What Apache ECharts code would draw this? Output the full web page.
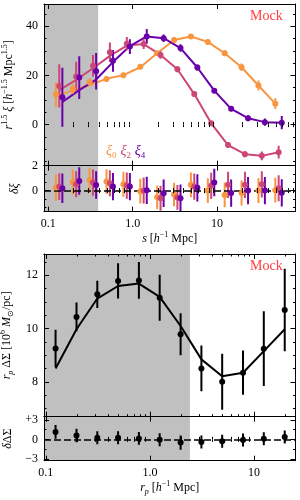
<!DOCTYPE html>
<html><head><meta charset="utf-8">
<script src="https://cdn.jsdelivr.net/npm/echarts@6/dist/echarts.min.js"></script>
<style>html,body{margin:0;padding:0;background:#fff}#c{width:300px;height:500px}</style>
</head><body><div id="c"></div>
<script>
const FONT = 'Liberation Serif';
// ---- top panel: r^1.5 xi multipoles ----
const S_BINS = [0.135, 0.214, 0.339, 0.537, 0.852, 1.35, 2.14, 3.39, 5.37, 8.52, 13.5, 21.4, 33.9, 53.7];
const XI0 = [12.2, 14.5, 17.2, 18.5, 20.1, 23.5, 29.0, 34.4, 35.8, 33.6, 29.0, 23.3, 15.9, 8.5];
const XI0_ERR = [5.0, 2.0, 1.5, 1.2, 1.0, 1.0, 1.0, 1.0, 1.0, 1.0, 1.2, 1.5, 2.0, 2.2];
const XI0_MODEL = [11.7, 13.8, 16.1, 18.6, 20.1, 23.3, 29.0, 34.4, 35.8, 33.6, 29.0, 23.3, 15.9, 8.5];
const XI2 = [15.7, 19.5, 23.9, 29.4, 32.9, 32.7, 28.3, 22.5, 12.4, 0.5, -8.3, -12.0, -12.7, -11.2];
const XI2_ERR = [8.8, 6.0, 4.4, 4.0, 2.7, 2.0, 1.5, 1.2, 1.0, 1.0, 1.2, 1.3, 1.8, 2.6];
const XI2_MODEL = [14.0, 18.2, 22.9, 27.9, 32.1, 32.7, 28.3, 22.5, 12.4, 0.5, -8.3, -12.0, -12.7, -11.2];
const XI4 = [11.1, 19.1, 21.7, 25.9, 31.7, 35.8, 35.1, 31.1, 23.2, 13.8, 6.4, 2.6, 1.0, 0.8];
const XI4_ERR = [12.0, 8.7, 7.4, 4.4, 3.0, 3.0, 1.5, 1.5, 1.2, 1.0, 1.0, 1.2, 1.5, 2.7];
const XI4_MODEL = [9.2, 14.0, 18.3, 25.4, 31.9, 35.8, 35.1, 31.1, 23.2, 13.8, 6.4, 2.6, 1.0, 0.8];
// ---- residual panel: delta xi ----
const DXI0 = [0.24, 0.67, 0.85, 0.72, 0.51, -0.05, -0.54, -0.32, 0.46, 0.0, -0.35, -0.2, 0.0, 0.03];
const DXI0_ERR = [1.05, 1.0, 1.0, 1.0, 1.0, 1.0, 0.95, 0.95, 1.0, 1.0, 1.0, 1.0, 1.0, 1.0];
const DXI2 = [0.32, 0.51, 0.64, 0.59, 0.40, 0.0, -0.62, -0.55, 0.32, 0.38, 0.46, 0.46, 0.50, 0.19];
const DXI2_ERR = [1.08, 1.05, 1.05, 1.05, 1.05, 1.05, 1.0, 1.0, 1.05, 1.05, 1.05, 1.05, 1.05, 1.05];
const DXI4 = [0.19, 0.77, 0.45, 0.32, 0.32, 0.02, -0.22, -0.62, 0.22, 0.65, -0.2, 0.0, 0.0, -0.18];
const DXI4_ERR = [1.19, 1.1, 1.1, 1.1, 1.1, 1.1, 1.1, 1.1, 1.1, 1.1, 1.1, 1.1, 1.1, 1.1];
// ---- lensing panel ----
const RP_BINS = [0.124, 0.197, 0.312, 0.494, 0.783, 1.24, 1.97, 3.12, 4.94, 7.83, 12.4, 19.7];
const DS = [9.26, 10.44, 11.29, 11.79, 11.81, 11.16, 9.79, 8.51, 8.01, 8.35, 9.25, 10.70];
const DS_ERR = [0.70, 0.54, 0.51, 0.66, 0.69, 0.86, 0.79, 0.86, 1.05, 0.83, 1.40, 1.55];
const DS_MODEL = [8.51, 9.98, 11.13, 11.60, 11.69, 11.19, 10.10, 8.85, 8.22, 8.35, 9.16, 9.98];
const DDS = [1.15, 0.6, 0.25, 0.25, 0.15, -0.05, -0.5, -0.4, -0.3, -0.1, 0.1, 0.35];
const DDS_ERR = [1.07, 1.05, 1.0, 1.0, 1.0, 1.0, 1.1, 1.0, 1.0, 1.0, 1.0, 1.0];
// ---- ticks & ranges ----
const X_TICKS = [0.1, 1, 10];
const X_TICK_LABELS = ['0.1', '1.0', '10'];
const X_MINOR_TOP = [0.2,0.3,0.4,0.5,0.6,0.7,0.8,0.9,2,3,4,5,6,7,8,9,20,30,40,50,60,70,80];
const X_MINOR_BOT = [0.2,0.3,0.4,0.5,0.6,0.7,0.8,0.9,2,3,4,5,6,7,8,9,20];
const Y1_TICKS = [0, 20, 40];
const Y1_MINOR = [-15,-10,-5,5,10,15,25,30,35,45];
const Y2_TICKS = [0, 2];
const Y2_MINOR = [-1.333,-0.667,0.667,1.333];
const Y3_TICKS = [8, 10, 12];
const Y3_MINOR = [7,7.5,8.5,9,9.5,10.5,11,11.5,12.5];
const Y4_TICKS = [-3, 0, 3];
const Y4_TICK_LABELS = ['−3', '0', '+3'];
const Y4_MINOR = [-1.5, 1.5];
const S_CUT = 0.39, RP_CUT = 2.42;
const S_RANGE = [0.089, 85], RP_RANGE = [0.096, 25];

const C0 = '#f89540', C2 = '#cc4778', C4 = '#6a00a8';
const DODGE = [0.912, 1, 1.088];

const RICH = {
  i: {fontFamily: FONT, fontStyle: 'italic', fontSize: 12, lineHeight: 16, color: '#000'},
  n: {fontFamily: FONT, fontSize: 12, lineHeight: 16, color: '#000'},
  sup: {fontFamily: FONT, fontSize: 8, lineHeight: 9, verticalAlign: 'top', color: '#000'},
  subi: {fontFamily: FONT, fontStyle: 'italic', fontSize: 8, lineHeight: 9, verticalAlign: 'bottom', color: '#000'},
  subn: {fontFamily: FONT, fontSize: 8, lineHeight: 9, verticalAlign: 'bottom', color: '#000'}
};

function lookupFmt(vals, labels) {
  return v => { for (let k = 0; k < vals.length; k++) if (Math.abs(v - vals[k]) < 1e-6 * Math.max(1, Math.abs(vals[k]))) return labels[k]; return ''; };
}

const grids = [
  {left: 44, width: 251.5, top: 4, height: 161.7},
  {left: 44, width: 251.5, top: 165.7, height: 46},
  {left: 44, width: 251.5, top: 254, height: 162.7},
  {left: 44, width: 251.5, top: 416.7, height: 44}
].map(g => Object.assign(g, {outerBoundsMode: 'none', containLabel: false}));

const lineStyleAxis = {color: '#000', width: 1};
function xAxes(gi, range, minors, showLabels, name) {
  const base = {gridIndex: gi, type: 'log', logBase: 10, min: range[0], max: range[1], splitLine: {show: false}, z: 10};
  return [
    Object.assign({}, base, {position: 'bottom',
      axisLine: {show: true, onZero: false, lineStyle: lineStyleAxis},
      axisTick: {show: true, inside: true, length: 5, customValues: X_TICKS, lineStyle: lineStyleAxis},
      axisLabel: {show: showLabels, customValues: X_TICKS, formatter: lookupFmt(X_TICKS, X_TICK_LABELS), margin: 6, fontFamily: FONT, fontSize: 12, color: '#000'},
      name: name || '', nameLocation: 'middle', nameGap: 18, nameTextStyle: {rich: RICH}}),
    Object.assign({}, base, {position: 'bottom', axisLine: {show: false},
      axisTick: {show: true, inside: true, length: 2.5, customValues: minors, lineStyle: lineStyleAxis}, axisLabel: {show: false}}),
    Object.assign({}, base, {position: 'top',
      axisLine: {show: true, onZero: false, lineStyle: lineStyleAxis},
      axisTick: {show: true, inside: true, length: 5, customValues: X_TICKS, lineStyle: lineStyleAxis}, axisLabel: {show: false}}),
    Object.assign({}, base, {position: 'top', axisLine: {show: false},
      axisTick: {show: true, inside: true, length: 2.5, customValues: minors, lineStyle: lineStyleAxis}, axisLabel: {show: false}})
  ];
}
function yAxes(gi, range, majors, labels, minors, name, gap) {
  const base = {gridIndex: gi, type: 'value', min: range[0], max: range[1], splitLine: {show: false}, z: 10};
  return [
    Object.assign({}, base, {position: 'left',
      axisLine: {show: true, onZero: false, lineStyle: lineStyleAxis},
      axisTick: {show: true, inside: true, length: 5, customValues: majors, lineStyle: lineStyleAxis},
      axisLabel: {show: true, customValues: majors, formatter: lookupFmt(majors, labels), margin: 6, fontFamily: FONT, fontSize: 12, color: '#000'},
      name: name, nameLocation: 'middle', nameRotate: 90, nameGap: gap, nameTextStyle: {rich: RICH}}),
    Object.assign({}, base, {position: 'left', axisLine: {show: false},
      axisTick: {show: true, inside: true, length: 2.5, customValues: minors, lineStyle: lineStyleAxis}, axisLabel: {show: false}}),
    Object.assign({}, base, {position: 'right',
      axisLine: {show: true, onZero: false, lineStyle: lineStyleAxis},
      axisTick: {show: true, inside: true, length: 5, customValues: majors, lineStyle: lineStyleAxis}, axisLabel: {show: false}}),
    Object.assign({}, base, {position: 'right', axisLine: {show: false},
      axisTick: {show: true, inside: true, length: 2.5, customValues: minors, lineStyle: lineStyleAxis}, axisLabel: {show: false}})
  ];
}

const xAxis = [].concat(
  xAxes(0, S_RANGE, X_MINOR_TOP, false),
  xAxes(1, S_RANGE, X_MINOR_TOP, true, '{i|s}{n| [}{i|h}{sup|−1}{n| Mpc]}'),
  xAxes(2, RP_RANGE, X_MINOR_BOT, false),
  xAxes(3, RP_RANGE, X_MINOR_BOT, true, '{i|r}{subi|p}{n| [}{i|h}{sup|−1}{n| Mpc]}')
);
const yAxis = [].concat(
  yAxes(0, [-16.7, 49], Y1_TICKS, Y1_TICKS.map(String), Y1_MINOR, '{i|r}{sup|1.5}{n| }{i|ξ}{n| [}{i|h}{sup|−1.5}{n| Mpc}{sup|1.5}{n|]}', 25),
  yAxes(1, [-1.7, 2], Y2_TICKS, Y2_TICKS.map(String), Y2_MINOR, '{i|δξ}', 17),
  yAxes(2, [6.7, 12.8], Y3_TICKS, Y3_TICKS.map(String), Y3_MINOR, '{i|r}{subi|p}{n| ΔΣ [10}{sup|6}{i| M}{subn|⊙}{n|/pc]}', 25),
  yAxes(3, [-3.3, 3.5], Y4_TICKS, Y4_TICK_LABELS, Y4_MINOR, '{i|δ}{n|ΔΣ}', 26)
);

function errSeries(xs, ys, es, color, gi, width, z) {
  return {type: 'custom', xAxisIndex: gi * 4, yAxisIndex: gi * 4, z: z, silent: true, clip: true,
    data: xs.map((x, i) => [x, ys[i], es[i]]), encode: {x: 0, y: 1},
    renderItem: (p, api) => {
      const x = api.value(0), y = api.value(1), e = api.value(2);
      const a = api.coord([x, y - e]), b = api.coord([x, y + e]);
      return {type: 'line', shape: {x1: a[0], y1: a[1], x2: b[0], y2: b[1]}, style: {stroke: color, lineWidth: width}};
    }};
}
function ptSeries(xs, ys, color, gi, size, z) {
  return {type: 'scatter', xAxisIndex: gi * 4, yAxisIndex: gi * 4, z: z, silent: true, symbolSize: size,
    itemStyle: {color: color, opacity: 1}, data: xs.map((x, i) => [x, ys[i]])};
}
function lineSeries(xs, ys, color, gi, width, z) {
  return {type: 'line', xAxisIndex: gi * 4, yAxisIndex: gi * 4, z: z, silent: true, showSymbol: false, symbol: 'none',
    lineStyle: {color: color, width: width}, data: xs.map((x, i) => [x, ys[i]])};
}
function shadeSeries(gi, range, cut, zeroLine) {
  const s = {type: 'line', xAxisIndex: gi * 4, yAxisIndex: gi * 4, z: 1, silent: true, data: [], symbol: 'none',
    markArea: {silent: true, itemStyle: {color: '#c0c0c0'}, data: [[{xAxis: range[0]}, {xAxis: cut}]]}};
  if (zeroLine) s.markLine = {silent: true, symbol: ['none', 'none'], label: {show: false}, animation: false,
    lineStyle: {color: '#000', type: [7, 3], width: 1.5}, data: [{yAxis: 0}]};
  return s;
}

const sx = k => S_BINS.map(s => s * DODGE[k]);
const series = [
  shadeSeries(0, S_RANGE, S_CUT, false),
  shadeSeries(1, S_RANGE, S_CUT, true),
  shadeSeries(2, RP_RANGE, RP_CUT, false),
  shadeSeries(3, RP_RANGE, RP_CUT, true),
  // top panel
  lineSeries(sx(0), XI0_MODEL, C0, 0, 2, 3),
  lineSeries(sx(1), XI2_MODEL, C2, 0, 2, 3),
  lineSeries(sx(2), XI4_MODEL, C4, 0, 2, 3),
  errSeries(sx(0), XI0, XI0_ERR, C0, 0, 2, 4), ptSeries(sx(0), XI0, C0, 0, 6, 5),
  errSeries(sx(1), XI2, XI2_ERR, C2, 0, 2, 4), ptSeries(sx(1), XI2, C2, 0, 6, 5),
  errSeries(sx(2), XI4, XI4_ERR, C4, 0, 2, 4), ptSeries(sx(2), XI4, C4, 0, 6, 5),
  // residuals
  errSeries(sx(0), DXI0, DXI0_ERR, C0, 1, 2, 4), ptSeries(sx(0), DXI0, C0, 1, 6, 5),
  errSeries(sx(1), DXI2, DXI2_ERR, C2, 1, 2, 4), ptSeries(sx(1), DXI2, C2, 1, 6, 5),
  errSeries(sx(2), DXI4, DXI4_ERR, C4, 1, 2, 4), ptSeries(sx(2), DXI4, C4, 1, 6, 5),
  // lensing
  lineSeries(RP_BINS, DS_MODEL, '#000', 2, 2, 3),
  errSeries(RP_BINS, DS, DS_ERR, '#000', 2, 2, 4), ptSeries(RP_BINS, DS, '#000', 2, 6, 5),
  errSeries(RP_BINS, DDS, DDS_ERR, '#000', 3, 2, 4), ptSeries(RP_BINS, DDS, '#000', 3, 6, 5)
];

const legendRich = {
  a: {fontFamily: FONT, fontStyle: 'italic', fontSize: 14, lineHeight: 18, fill: C0},
  as: {fontFamily: FONT, fontSize: 9, lineHeight: 10, verticalAlign: 'bottom', fill: C0},
  b: {fontFamily: FONT, fontStyle: 'italic', fontSize: 14, lineHeight: 18, fill: C2},
  bs: {fontFamily: FONT, fontSize: 9, lineHeight: 10, verticalAlign: 'bottom', fill: C2},
  c: {fontFamily: FONT, fontStyle: 'italic', fontSize: 14, lineHeight: 18, fill: C4},
  cs: {fontFamily: FONT, fontSize: 9, lineHeight: 10, verticalAlign: 'bottom', fill: C4},
  sp: {fontSize: 14, lineHeight: 18}
};

const chart = echarts.init(document.getElementById('c'), null, {renderer: 'canvas'});
chart.setOption({
  animation: false,
  backgroundColor: '#fff',
  grid: grids,
  xAxis: xAxis,
  yAxis: yAxis,
  series: series,
  graphic: [
    {type: 'text', left: 106, top: 144, z: 20, style: {text: '{a|ξ}{as|0}{sp| }{b|ξ}{bs|2}{sp| }{c|ξ}{cs|4}', rich: legendRich}},
    {type: 'text', left: 250, top: 9, z: 20, style: {text: 'Mock', fontFamily: FONT, fontSize: 14, fill: '#ff4040'}},
    {type: 'text', left: 250, top: 259, z: 20, style: {text: 'Mock', fontFamily: FONT, fontSize: 14, fill: '#ff4040'}}
  ]
});
</script></body></html>
